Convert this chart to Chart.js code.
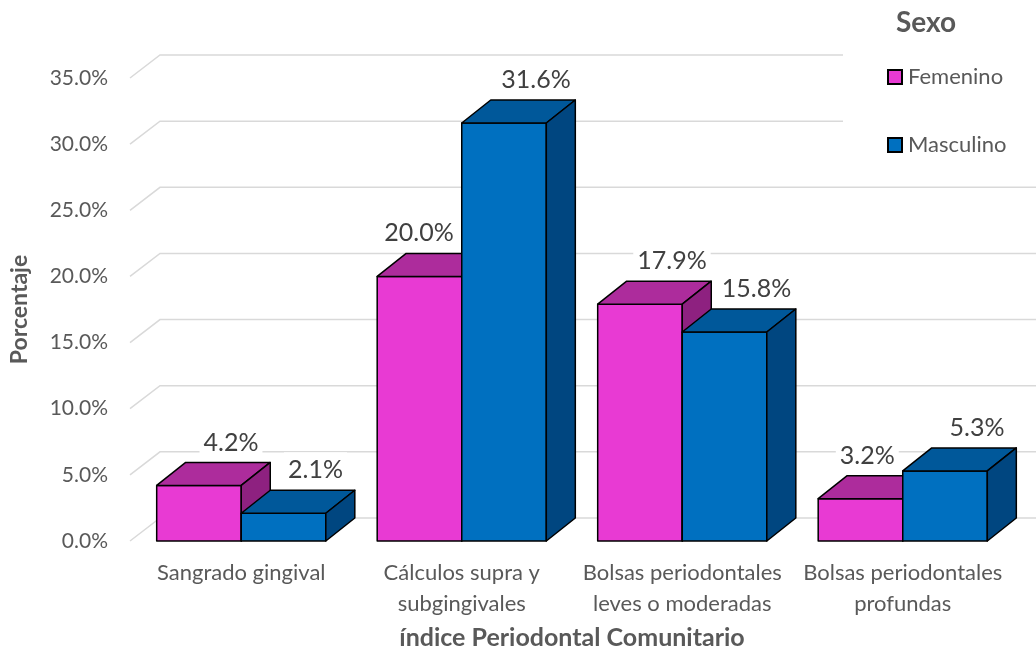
<!DOCTYPE html>
<html>
<head>
<meta charset="utf-8">
<script src="https://cdn.jsdelivr.net/npm/chart.js@4.4.1/dist/chart.umd.min.js"></script>
<style>
  body { margin: 0; background: #fff; }
  #wrap { width: 1036px; height: 655px; }
</style>
</head>
<body>
<div id="wrap"><canvas id="myChart" width="1036" height="655"></canvas></div>
<script>
// datos
const categorias = [
    ["Sangrado gingival"],
    ["Cálculos supra y", "subgingivales"],
    ["Bolsas periodontales", "leves o moderadas"],
    ["Bolsas periodontales", "profundas"]
];
const femenino = [4.2, 20.0, 17.9, 3.2];
const masculino = [2.1, 31.6, 15.8, 5.3];
const yTicks = [0, 5, 10, 15, 20, 25, 30, 35];

const FONT = "Lato, 'Open Sans', sans-serif";
const GRIS = "#595959";
const DX = 29, DY = 23;   // profundidad 3D

const colores = [
    { front: "#E83AD3", top: "#AD2C9C", side: "#8E2180" },
    { front: "#0070C0", top: "#00589A", side: "#004680" }
];

function poly(ctx, pts, fill){
    ctx.beginPath();
    ctx.moveTo(pts[0][0], pts[0][1]);
    for (let i = 1; i < pts.length; i++) ctx.lineTo(pts[i][0], pts[i][1]);
    ctx.closePath();
    ctx.fillStyle = fill;
    ctx.fill();
    ctx.stroke();
}

const barras3d = {
    id: "barras3d",
    beforeDatasetsDraw(chart){
        const ctx = chart.ctx;
        const y = chart.scales.y;
        const area = chart.chartArea;

        // rejilla en la pared del fondo
        ctx.save();
        ctx.strokeStyle = "#D9D9D9";
        ctx.lineWidth = 1.5;
        yTicks.forEach(v => {
            const py = y.getPixelForValue(v);
            ctx.beginPath();
            ctx.moveTo(area.left - 1, py);
            ctx.lineTo(area.left + DX, py - DY);
            ctx.lineTo(chart.width, py - DY);
            ctx.stroke();
        });
        ctx.restore();

        // barras: por categoria, primero femenino luego masculino
        ctx.save();
        ctx.strokeStyle = "#000";
        ctx.lineWidth = 1.5;
        ctx.lineJoin = "round";
        for (let i = 0; i < categorias.length; i++){
            chart.data.datasets.forEach((ds, d) => {
                const el = chart.getDatasetMeta(d).data[i];
                const x0 = el.x - el.width / 2, x1 = el.x + el.width / 2;
                const yt = el.y, yb = el.base;
                const c = colores[d];
                poly(ctx, [[x0, yt], [x1, yt], [x1, yb], [x0, yb]], c.front);
                poly(ctx, [[x0, yt], [x1, yt], [x1 + DX, yt - DY], [x0 + DX, yt - DY]], c.top);
                poly(ctx, [[x1, yt], [x1 + DX, yt - DY], [x1 + DX, yb - DY], [x1, yb]], c.side);
            });
        }
        ctx.restore();
        return false;
    },
    afterDraw(chart){
        const ctx = chart.ctx;
        const n = chart.data.datasets.length;
        ctx.save();
        // etiquetas de datos
        ctx.font = "25px " + FONT;
        ctx.textAlign = "center";
        ctx.textBaseline = "middle";
        chart.data.datasets.forEach((ds, d) => {
            chart.getDatasetMeta(d).data.forEach((el, i) => {
                const txt = ds.data[i].toFixed(1) + "%";
                const w = ctx.measureText(txt).width + 8;
                let cx = el.x + 32;
                const cy = el.y - DY - 21;
                // no tapar la barra vecina de la derecha
                if (d < n - 1){
                    const nb = chart.getDatasetMeta(d + 1).data[i];
                    const nx0 = nb.x - nb.width / 2;
                    const yB = cy + 17;
                    if (yB > nb.y - DY){
                        const lim = yB >= nb.y ? nx0 : nx0 + DX * (nb.y - yB) / DY;
                        if (cx + w / 2 > lim - 4) cx = lim - 4 - w / 2;
                    }
                }
                ctx.fillStyle = "#fff";
                ctx.fillRect(cx - w / 2, cy - 17, w, 34);
                ctx.fillStyle = "#404040";
                ctx.fillText(txt, cx, cy + 1);
            });
        });

        // leyenda
        ctx.fillStyle = "#fff";
        ctx.fillRect(843, 0, chart.width - 843, 172);
        ctx.fillStyle = GRIS;
        ctx.font = "bold 28px " + FONT;
        ctx.fillText("Sexo", 926, 23);
        ctx.textAlign = "left";
        ctx.font = "22px " + FONT;
        chart.data.datasets.forEach((ds, d) => {
            const ly = 77 + d * 68;
            ctx.fillStyle = colores[d].front;
            ctx.strokeStyle = "#000";
            ctx.lineWidth = 2;
            ctx.fillRect(888, ly - 7, 14, 14);
            ctx.strokeRect(888, ly - 7, 14, 14);
            ctx.fillStyle = GRIS;
            ctx.fillText(ds.label, 908, ly);
        });
        ctx.restore();
    }
};

const ctx = document.getElementById("myChart");

new Chart(ctx, {
    type: "bar",
    data: {
        labels: categorias,
        datasets: [
            { label: "Femenino", data: femenino, backgroundColor: colores[0].front },
            { label: "Masculino", data: masculino, backgroundColor: colores[1].front }
        ]
    },
    options: {
        responsive: false,
        devicePixelRatio: 1,
        animation: false,
        categoryPercentage: 0.767,
        barPercentage: 1.0,
        layout: { padding: { top: 78, right: 23, left: 0, bottom: 0 } },
        plugins: {
            legend: { display: false },
            tooltip: { enabled: false }
        },
        scales: {
            y: {
                min: 0,
                max: 35,
                afterBuildTicks: s => { s.ticks = yTicks.map(v => ({ value: v })); },
                afterFit: s => { s.width = 131; },
                grid: { display: false, drawTicks: false },
                border: { display: false },
                ticks: {
                    padding: 23,
                    color: GRIS,
                    font: { family: FONT, size: 21 },
                    callback: v => v.toFixed(1) + "%"
                },
                title: {
                    display: true,
                    text: "Porcentaje",
                    color: GRIS,
                    padding: { top: 6, bottom: 4 },
                    font: { family: FONT, size: 23, weight: "bold" }
                }
            },
            x: {
                afterFit: s => { s.height = 114; },
                grid: { display: false, drawTicks: false },
                border: { display: false },
                ticks: {
                    padding: 17,
                    color: GRIS,
                    maxRotation: 0,
                    font: { family: FONT, size: 22, lineHeight: 1.4 }
                },
                title: {
                    display: true,
                    text: "índice Periodontal Comunitario",
                    color: GRIS,
                    padding: { top: 4, bottom: 2 },
                    font: { family: FONT, size: 25, weight: "bold" }
                }
            }
        }
    },
    plugins: [barras3d]
});
</script>
</body>
</html>
